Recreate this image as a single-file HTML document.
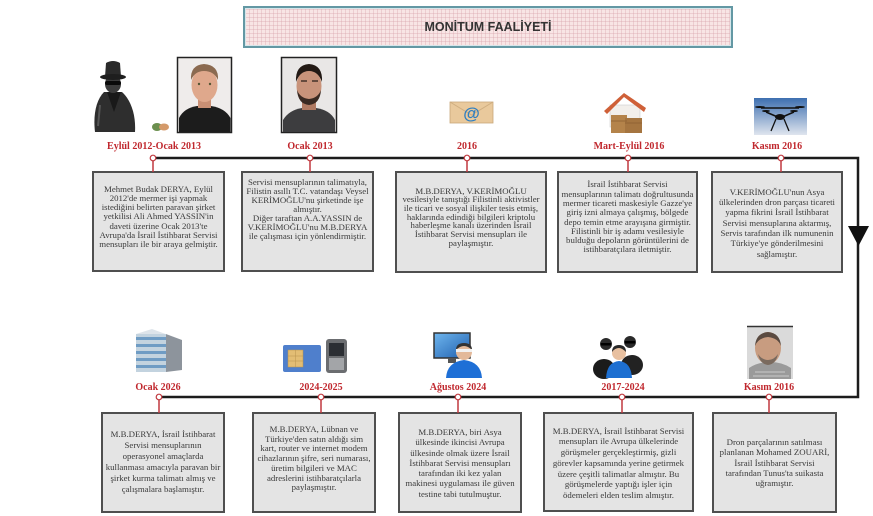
<!DOCTYPE html>
<html><head><meta charset="utf-8">
<style>
html,body{margin:0;padding:0;background:#fff;}
#c{position:relative;width:873px;height:516px;overflow:hidden;background:#fff;}
svg{position:absolute;left:0;top:0;}
.t{position:absolute;text-align:center;font-family:"Liberation Serif",serif;font-size:8.8px;color:#3a3a3a;white-space:nowrap;}
.lb{position:absolute;font-family:"Liberation Serif",serif;font-weight:bold;font-size:10px;line-height:12px;color:#c0282e;white-space:nowrap;transform:translateX(-50%);}
#title{position:absolute;left:243px;top:6px;width:486px;height:38px;border:2px solid #6398a4;
background-color:#f8e5e5;
background-image:repeating-linear-gradient(90deg,rgba(215,160,168,.35) 0 1px,transparent 1px 4px),repeating-linear-gradient(0deg,rgba(215,160,168,.35) 0 1px,transparent 1px 4px);
font-family:"Liberation Sans",sans-serif;font-weight:bold;font-size:12.5px;color:#333;text-align:center;line-height:38px;box-shadow:inset 0 0 0 1px #d6e6ea;}
</style></head><body><div id="c">
<svg width="873" height="516" viewBox="0 0 873 516">
<defs>
<linearGradient id="sky" x1="0" y1="0" x2="0" y2="1"><stop offset="0" stop-color="#3d6fb0"/><stop offset="1" stop-color="#dfe5ee"/></linearGradient>
<linearGradient id="scr" x1="0" y1="0" x2="1" y2="1"><stop offset="0" stop-color="#6fb6ee"/><stop offset="1" stop-color="#1f5fae"/></linearGradient>
</defs>
<!-- timeline -->
<path d="M153 158 H858 V397 H159" stroke="#1c1c1c" stroke-width="2.5" fill="none"/>
<polygon points="848,226 869,226 858.5,246" fill="#111"/>

<!-- top boxes -->
<g fill="#e4e4e4" stroke="#4f4f4f" stroke-width="2">
<rect x="93" y="172" width="131" height="99"/>
<rect x="242" y="172" width="131" height="99"/>
<rect x="396" y="172" width="150" height="100"/>
<rect x="558" y="172" width="139" height="100"/>
<rect x="712" y="172" width="130" height="100"/>
<rect x="102" y="413" width="122" height="99"/>
<rect x="253" y="413" width="122" height="99"/>
<rect x="399" y="413" width="122" height="99"/>
<rect x="544" y="413" width="149" height="98"/>
<rect x="713" y="413" width="123" height="99"/>
</g>

<!-- markers -->
<g stroke="#c0393f" stroke-width="1.5">
<line x1="153" y1="160" x2="153" y2="172"/>
<line x1="310" y1="160" x2="310" y2="172"/>
<line x1="467" y1="160" x2="467" y2="172"/>
<line x1="628" y1="160" x2="628" y2="172"/>
<line x1="781" y1="160" x2="781" y2="172"/>
<line x1="159" y1="399" x2="159" y2="413"/>
<line x1="321" y1="399" x2="321" y2="413"/>
<line x1="458" y1="399" x2="458" y2="413"/>
<line x1="622" y1="399" x2="622" y2="413"/>
<line x1="769" y1="399" x2="769" y2="413"/>
</g>
<g fill="#fff" stroke="#c0393f" stroke-width="1.2">
<circle cx="153" cy="158" r="2.8"/><circle cx="310" cy="158" r="2.8"/><circle cx="467" cy="158" r="2.8"/><circle cx="628" cy="158" r="2.8"/><circle cx="781" cy="158" r="2.8"/>
<circle cx="159" cy="397" r="2.8"/><circle cx="321" cy="397" r="2.8"/><circle cx="458" cy="397" r="2.8"/><circle cx="622" cy="397" r="2.8"/><circle cx="769" cy="397" r="2.8"/>
</g>

<!-- spy -->
<g>
<path d="M95 132 C93 115 96 100 104 92 L122 92 C131 100 136 115 135 132 Z" fill="#2e2e2e"/>
<path d="M107 92 L114 112 L121 92 Z" fill="#191919"/>
<path d="M100 105 L98 126" stroke="#555" stroke-width="2"/>
<ellipse cx="113" cy="84" rx="8" ry="9" fill="#3c3c3c"/>
<rect x="105" y="81" width="16" height="4" rx="2" fill="#0a0a0a"/>
<path d="M105 77 L106 63 Q113 59 120 63 L121 77 Z" fill="#2a2a2a"/>
<ellipse cx="113" cy="77" rx="13" ry="3" fill="#1e1e1e"/>
</g>
<ellipse cx="157" cy="127" rx="5" ry="4" fill="#6b8f4e"/><ellipse cx="164" cy="127" rx="5" ry="3.5" fill="#d49a6a"/>

<!-- photo1 -->
<rect x="177.5" y="57.5" width="54" height="75" fill="#efeceb" stroke="#222" stroke-width="1.5"/>
<path d="M179 132 L179 118 Q184 108 197 106 L211 106 Q225 108 230.5 118 L230.5 132 Z" fill="#1c1c1c"/>
<rect x="198" y="98" width="13" height="10" fill="#c98f74"/>
<ellipse cx="204.5" cy="85" rx="13" ry="17" fill="#dfa88c"/>
<path d="M191 80 Q190 65 204 64 Q219 65 218 80 Q214 71 204 71 Q195 71 191 80Z" fill="#8b6a50"/>
<circle cx="199" cy="84" r="1.2" fill="#553"/><circle cx="210" cy="84" r="1.2" fill="#553"/>

<!-- photo2 -->
<rect x="281.5" y="57.5" width="55" height="75" fill="#e9e7e6" stroke="#222" stroke-width="1.5"/>
<path d="M283 132 L283 120 Q289 110 302 108 L316 108 Q330 110 335 120 L335 132Z" fill="#3d3d3f"/>
<rect x="302" y="99" width="14" height="11" fill="#b07a62"/>
<ellipse cx="309" cy="86" rx="12.5" ry="17" fill="#c8937a"/>
<path d="M296 82 Q295 65 309 64 Q323 65 322 82 Q318 71 309 71 Q300 71 296 82Z" fill="#231a15"/>
<path d="M297 90 Q298 104 309 105 Q320 104 321 90 Q318 98 309 99 Q300 98 297 90Z" fill="#3a2a22"/>
<path d="M301 81 h6 M312 81 h6" stroke="#2a1f19" stroke-width="1.3"/>

<!-- email -->
<rect x="450" y="102" width="43" height="21" fill="#e9c99c" stroke="#c9a77a" stroke-width=".8"/>
<path d="M450 102 L471.5 115 L493 102" fill="none" stroke="#cfae80" stroke-width="1"/>
<text x="471.5" y="119" font-family="Liberation Sans,sans-serif" font-size="17" font-weight="bold" fill="#2f7fc1" text-anchor="middle">@</text>

<!-- house -->
<rect x="610" y="105" width="30" height="22" fill="#f2efeb" stroke="#ccc" stroke-width=".6"/>
<polygon points="604,111 624,93 646,108 644,112 624,97 607,114" fill="#cf6038"/>
<rect x="611" y="115" width="16" height="18" fill="#b4834a"/>
<rect x="625" y="118" width="17" height="15" fill="#a57540"/>
<path d="M611 121 h16 M625 123 h17" stroke="#8a5f30" stroke-width=".8"/>

<!-- drone -->
<rect x="754" y="98" width="53" height="37" fill="url(#sky)"/>
<path d="M761 108 L799 108 M766 112 L780 118 L794 112" stroke="#111" stroke-width="1.5" fill="none"/>
<ellipse cx="780" cy="117" rx="5" ry="3" fill="#111"/>
<g fill="#111"><ellipse cx="760" cy="107" rx="5" ry="1"/><ellipse cx="800" cy="107" rx="5" ry="1"/><ellipse cx="766" cy="111" rx="4" ry="1"/><ellipse cx="794" cy="111" rx="4" ry="1"/></g>
<path d="M776 119 L771 131 M784 119 L789 131" stroke="#111" stroke-width="1.3"/>

<!-- building -->
<rect x="136" y="334" width="30" height="38" fill="#c3d3df"/>
<g fill="#6f9cc4"><rect x="136" y="337" width="30" height="3"/><rect x="136" y="344" width="30" height="3"/><rect x="136" y="351" width="30" height="3"/><rect x="136" y="358" width="30" height="3"/><rect x="136" y="365" width="30" height="3"/></g>
<polygon points="166,334 182,340 182,370 166,372" fill="#8d949c"/>
<polygon points="136,334 152,329 182,340 166,334" fill="#dde4ea"/>

<!-- sim + phone -->
<rect x="283" y="345" width="38" height="27" rx="2" fill="#4f7fcc"/>
<rect x="288" y="350" width="15" height="17" fill="#e3bd74" stroke="#b8924f" stroke-width=".5"/>
<path d="M288 356 h15 M288 361 h15 M295.5 350 v17" stroke="#b8924f" stroke-width=".5"/>
<rect x="326" y="339" width="21" height="34" rx="3" fill="#6b6d70"/>
<rect x="329" y="343" width="15" height="13" fill="#2b2e33"/>
<rect x="329" y="358" width="15" height="12" fill="#a3a5a8"/>

<!-- computer user -->
<rect x="434" y="333" width="36" height="25" fill="url(#scr)" stroke="#333" stroke-width="1.5"/>
<rect x="448" y="358" width="8" height="5" fill="#555"/>
<path d="M446 378 Q447 362 464 360 Q481 362 482 378Z" fill="#1e6fd6"/>
<circle cx="464" cy="352" r="8" fill="#e3b99a"/>
<path d="M456 350 Q456 343 464 343 Q472 343 472 350 Q468 346 464 346 Q460 346 456 350Z" fill="#333"/>
<rect x="456" y="349" width="16" height="3" fill="#f2f2f2"/>

<!-- group -->
<ellipse cx="604" cy="369" rx="11" ry="10" fill="#1b1b1b"/>
<ellipse cx="632" cy="365" rx="11" ry="10" fill="#222"/>
<circle cx="606" cy="344" r="6" fill="#2a2a2a"/><rect x="601" y="343" width="10" height="2.5" fill="#000"/>
<circle cx="630" cy="342" r="6" fill="#2a2a2a"/><rect x="625" y="341" width="10" height="2.5" fill="#000"/>
<path d="M606 378 Q607 362 619 361 Q631 362 632 378Z" fill="#1d6fd1"/>
<circle cx="619" cy="353" r="7" fill="#e8c0a0"/>
<path d="M612 352 Q612 345 619 345 Q626 345 626 352 Q622 348 619 348 Q615 348 612 352Z" fill="#2a2a2a"/>

<!-- zouari -->
<rect x="747" y="327" width="46" height="52" fill="#dadada"/>
<line x1="747" y1="326.5" x2="793" y2="326.5" stroke="#333" stroke-width="1.5"/>
<path d="M749 379 L749 368 Q758 362 770 362 Q782 362 791 368 L791 379Z" fill="#9a9a9a"/>
<path d="M755 372 L785 372 M753 376 L789 376" stroke="#c9c9c9" stroke-width="1"/>
<ellipse cx="768" cy="348" rx="13" ry="16" fill="#c89c80"/>
<path d="M755 346 Q756 333 768 332 Q780 333 781 346 Q778 338 768 337 Q758 338 755 346Z" fill="#5a4a40"/>
<path d="M758 354 Q760 364 768 365 Q776 364 778 354 Q774 360 768 360 Q762 360 758 354Z" fill="#7a6a5e"/>
</svg>

<div id="title">MONİTUM FAALİYETİ</div>

<div class="lb" style="left:154px;top:141px;">Eylül 2012-Ocak 2013</div>
<div class="lb" style="left:310px;top:141px;">Ocak 2013</div>
<div class="lb" style="left:467px;top:141px;">2016</div>
<div class="lb" style="left:629px;top:141px;">Mart-Eylül 2016</div>
<div class="lb" style="left:777px;top:141px;">Kasım 2016</div>

<div class="lb" style="left:158px;top:382px;">Ocak 2026</div>
<div class="lb" style="left:321px;top:382px;">2024-2025</div>
<div class="lb" style="left:458px;top:382px;">Ağustos 2024</div>
<div class="lb" style="left:623px;top:382px;">2017-2024</div>
<div class="lb" style="left:769px;top:382px;">Kasım 2016</div>

<div class="t" style="left:93px;width:131px;top:184.5px;line-height:9.3px;">Mehmet Budak DERYA, Eylül<br>2012'de mermer işi yapmak<br>istediğini belirten paravan şirket<br>yetkilisi Ali Ahmed YASSIN'in<br>daveti üzerine Ocak 2013'te<br>Avrupa'da İsrail İstihbarat Servisi<br>mensupları ile bir araya gelmiştir.</div>

<div class="t" style="left:242px;width:131px;top:177.5px;line-height:9px;">Servisi mensuplarının talimatıyla,<br>Filistin asıllı T.C. vatandaşı Veysel<br>KERİMOĞLU'nu şirketinde işe<br>almıştır.<br>Diğer taraftan A.A.YASSIN de<br>V.KERİMOĞLU'nu M.B.DERYA<br>ile çalışması için yönlendirmiştir.</div>

<div class="t" style="left:396px;width:150px;top:186.6px;line-height:8.7px;">M.B.DERYA, V.KERİMOĞLU<br>vesilesiyle tanıştığı Filistinli aktivistler<br>ile ticari ve sosyal ilişkiler tesis etmiş,<br>haklarında edindiği bilgileri kriptolu<br>haberleşme kanalı üzerinden İsrail<br>İstihbarat Servisi mensupları ile<br>paylaşmıştır.</div>

<div class="t" style="left:558px;width:139px;top:180.4px;line-height:9.3px;">İsrail İstihbarat Servisi<br>mensuplarının talimatı doğrultusunda<br>mermer ticareti maskesiyle Gazze'ye<br>giriş izni almaya çalışmış, bölgede<br>depo temin etme arayışına girmiştir.<br>Filistinli bir iş adamı vesilesiyle<br>bulduğu depoların görüntülerini de<br>istihbaratçılara iletmiştir.</div>

<div class="t" style="left:712px;width:130px;top:186.8px;line-height:10.3px;">V.KERİMOĞLU'nun Asya<br>ülkelerinden dron parçası ticareti<br>yapma fikrini İsrail İstihbarat<br>Servisi mensuplarına aktarmış,<br>Servis tarafından ilk numunenin<br>Türkiye'ye gönderilmesini<br>sağlamıştır.</div>

<div class="t" style="left:102px;width:122px;top:428.5px;line-height:11px;">M.B.DERYA, İsrail İstihbarat<br>Servisi mensuplarının<br>operasyonel amaçlarda<br>kullanması amacıyla paravan bir<br>şirket kurma talimatı almış ve<br>çalışmalara başlamıştır.</div>

<div class="t" style="left:253px;width:122px;top:425px;line-height:9.7px;">M.B.DERYA, Lübnan ve<br>Türkiye'den satın aldığı sim<br>kart, router ve internet modem<br>cihazlarının şifre, seri numarası,<br>üretim bilgileri ve MAC<br>adreslerini istihbaratçılarla<br>paylaşmıştır.</div>

<div class="t" style="left:399px;width:122px;top:427px;line-height:10.3px;">M.B.DERYA, biri Asya<br>ülkesinde ikincisi Avrupa<br>ülkesinde olmak üzere İsrail<br>İstihbarat Servisi mensupları<br>tarafından iki kez yalan<br>makinesi uygulaması ile güven<br>testine tabi tutulmuştur.</div>

<div class="t" style="left:544px;width:149px;top:425.7px;line-height:10.7px;">M.B.DERYA, İsrail İstihbarat Servisi<br>mensupları ile Avrupa ülkelerinde<br>görüşmeler gerçekleştirmiş, gizli<br>görevler kapsamında yerine getirmek<br>üzere çeşitli talimatlar almıştır. Bu<br>görüşmelerde yaptığı işler için<br>ödemeleri elden teslim almıştır.</div>

<div class="t" style="left:713px;width:123px;top:437px;line-height:10.3px;">Dron parçalarının satılması<br>planlanan Mohamed ZOUARİ,<br>İsrail İstihbarat Servisi<br>tarafından Tunus'ta suikasta<br>uğramıştır.</div>
</div></body></html>
